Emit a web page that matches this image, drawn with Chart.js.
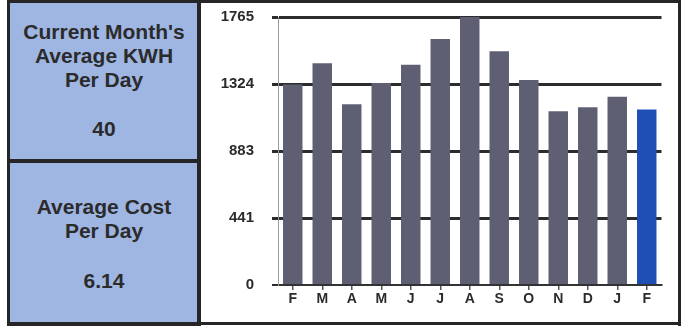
<!DOCTYPE html>
<html>
<head>
<meta charset="utf-8">
<script src="https://cdn.jsdelivr.net/npm/chart.js@4"></script>
<style>
  html, body { margin: 0; padding: 0; background: #fff; }
  body { width: 685px; height: 329px; position: relative; overflow: hidden;
         font-family: "Liberation Sans", Arial, sans-serif; }
  .panel { position: absolute; background: #9fb6e3; }
  .line { position: absolute; background: #262626; }
  .txt { position: absolute; left: 10px; width: 188px; text-align: center;
         font-weight: bold; font-size: 21px; color: #2b2b2b; line-height: 24px; }
  #wrap { position: absolute; left: 201px; top: 3px; width: 477px; height: 320px; }
</style>
</head>
<body>
  <!-- summary panels -->
  <div class="panel" style="left:9px; top:2px; width:189px; height:320px;"></div>
  <div class="line" style="left:7px; top:0; width:194px; height:3px;"></div>
  <div class="line" style="left:7px; top:0; width:3px; height:326px;"></div>
  <div class="line" style="left:7px; top:159px; width:194px; height:4px;"></div>
  <div class="line" style="left:7px; top:322px; width:194px; height:4px;"></div>
  <!-- chart frame -->
  <div class="line" style="left:197px; top:0; width:4px; height:326px;"></div>
  <div class="line" style="left:197px; top:0; width:484px; height:3px;"></div>
  <div class="line" style="left:678px; top:0; width:3px; height:326px;"></div>
  <div class="line" style="left:197px; top:322px; width:484px; height:3px;"></div>

  <div class="txt" style="top:20px;">Current Month's<br>Average KWH<br>Per Day</div>
  <div class="txt" style="top:117px;">40</div>
  <div class="txt" style="top:195px;">Average Cost<br>Per Day</div>
  <div class="txt" style="top:269px;">6.14</div>

  <div id="wrap"><canvas id="c"></canvas></div>

<script>
// monthly usage, Feb through Feb
const months = ['F', 'M', 'A', 'M', 'J', 'J', 'A', 'S', 'O', 'N', 'D', 'J', 'F'];
const kwh = [1320, 1460, 1190, 1330, 1450, 1620, 1765, 1540, 1350, 1145, 1170, 1240, 1155];
const yTickValues = [0, 441.25, 882.5, 1323.75, 1765];
const yTickLabels = ['0', '441', '883', '1324', '1765'];

const barGray = '#5f5f74';
const barCurrent = '#1f4fb4';
const barColors = kwh.map((_, i) => i === kwh.length - 1 ? barCurrent : barGray);

new Chart(document.getElementById('c'), {
  type: 'bar',
  data: {
    labels: months,
    datasets: [{
      data: kwh,
      backgroundColor: barColors,
      borderWidth: 0,
      categoryPercentage: 1,
      barPercentage: 0.66
    }]
  },
  options: {
    responsive: true,
    maintainAspectRatio: false,
    animation: false,
    layout: { padding: { left: 0, right: 16.5, top: 14, bottom: 0 } },
    plugins: { legend: { display: false }, tooltip: { enabled: false } },
    scales: {
      x: {
        grid: { display: true, drawOnChartArea: false, offset: false,
                tickLength: 5, color: '#555', lineWidth: 1.5 },
        border: { display: true, color: '#333', width: 2 },
        ticks: { color: '#2b2b2b', padding: 1,
                 font: { family: 'Liberation Sans', weight: 'bold', size: 14 } },
        afterFit: s => { s.height = 38; s.paddingLeft = 0; s.paddingRight = 0; }
      },
      y: {
        min: 0,
        max: 1765,
        afterBuildTicks: s => { s.ticks = yTickValues.map(v => ({ value: v })); },
        grid: { color: '#2c2c2c', tickLength: 6,
                lineWidth: ctx => ctx.index === 0 ? 2 : 3 },
        border: { display: true, color: '#9a9a9a', width: 1 },
        ticks: { color: '#2b2b2b', padding: 18,
                 font: { family: 'Liberation Sans', weight: 'bold', size: 15 },
                 callback: (v, i) => yTickLabels[i] },
        afterFit: s => { s.width = 77; s.paddingTop = 0; s.paddingBottom = 0; }
      }
    }
  }
});
</script>
</body>
</html>
